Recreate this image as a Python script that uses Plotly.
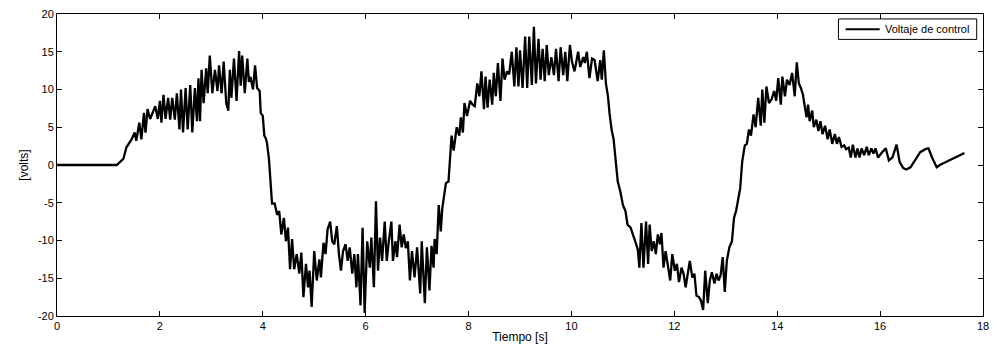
import plotly.graph_objects as go

t = [0, 1.16, 1.29, 1.35, 1.45, 1.51, 1.54, 1.60, 1.64, 1.69, 1.72, 1.76, 1.81, 1.86, 1.91, 1.96,
     2.00, 2.03, 2.07, 2.11, 2.16, 2.20, 2.24, 2.29, 2.33, 2.38, 2.41, 2.45, 2.50, 2.54, 2.59, 2.63,
     2.68, 2.72, 2.75, 2.78, 2.81, 2.85, 2.90, 2.93, 2.97, 3.02, 3.07, 3.12, 3.15, 3.20, 3.24, 3.29,
     3.33, 3.36, 3.39, 3.44, 3.49, 3.54, 3.57, 3.60, 3.65, 3.70, 3.73, 3.76, 3.81, 3.85, 3.89, 3.94,
     3.96, 4.00, 4.03, 4.06, 4.08, 4.12, 4.15, 4.18, 4.23, 4.28, 4.32, 4.36, 4.41, 4.45, 4.49, 4.53,
     4.57, 4.61, 4.66, 4.71, 4.75, 4.79, 4.84, 4.88, 4.91, 4.95, 5.00, 5.05, 5.10, 5.13, 5.18, 5.22,
     5.26, 5.31, 5.35, 5.39, 5.44, 5.48, 5.52, 5.56, 5.61, 5.65, 5.69, 5.74, 5.78, 5.82, 5.85, 5.90,
     5.94, 5.98, 6.03, 6.08, 6.11, 6.16, 6.20, 6.24, 6.28, 6.32, 6.37, 6.41, 6.45, 6.50, 6.53, 6.58,
     6.61, 6.66, 6.70, 6.74, 6.78, 6.82, 6.86, 6.90, 6.95, 7.00, 7.06, 7.09, 7.15, 7.19, 7.24, 7.28,
     7.32, 7.34, 7.38, 7.42, 7.46, 7.49, 7.56, 7.61, 7.67, 7.71, 7.77, 7.82, 7.85, 7.89, 7.92, 7.97,
     8.03, 8.08, 8.12, 8.17, 8.21, 8.25, 8.30, 8.33, 8.37, 8.41, 8.46, 8.49, 8.53, 8.57, 8.62, 8.66,
     8.70, 8.75, 8.79, 8.84, 8.89, 8.93, 8.97, 9.00, 9.05, 9.10, 9.14, 9.18, 9.23, 9.27, 9.31, 9.36,
     9.40, 9.44, 9.48, 9.52, 9.56, 9.61, 9.66, 9.70, 9.75, 9.79, 9.84, 9.88, 9.92, 9.97, 10.01, 10.06,
     10.13, 10.17, 10.23, 10.26, 10.30, 10.35, 10.40, 10.45, 10.51, 10.56, 10.59, 10.63, 10.67, 10.71,
     10.74, 10.78, 10.82, 10.85, 10.90, 10.95, 11.00, 11.05, 11.09, 11.15, 11.20, 11.24, 11.29, 11.32,
     11.36, 11.40, 11.45, 11.49, 11.52, 11.56, 11.60, 11.64, 11.68, 11.72, 11.75, 11.79, 11.83, 11.88,
     11.92, 11.96, 12.01, 12.05, 12.09, 12.14, 12.18, 12.22, 12.27, 12.30, 12.35, 12.39, 12.43, 12.48,
     12.52, 12.56, 12.60, 12.65, 12.69, 12.73, 12.78, 12.82, 12.86, 12.90, 12.94, 12.98, 13.02, 13.07,
     13.12, 13.16, 13.20, 13.25, 13.28, 13.32, 13.37, 13.41, 13.45, 13.49, 13.54, 13.58, 13.63, 13.68,
     13.71, 13.75, 13.79, 13.84, 13.89, 13.94, 13.98, 14.02, 14.07, 14.10, 14.15, 14.19, 14.24, 14.29,
     14.34, 14.38, 14.42, 14.46, 14.50, 14.53, 14.57, 14.60, 14.63, 14.68, 14.71, 14.76, 14.80, 14.84,
     14.88, 14.93, 14.98, 15.02, 15.07, 15.12, 15.16, 15.20, 15.25, 15.30, 15.34, 15.39, 15.43, 15.47,
     15.52, 15.56, 15.60, 15.64, 15.69, 15.74, 15.78, 15.83, 15.87, 15.91, 15.96, 16.04, 16.11, 16.17,
     16.24, 16.32, 16.38, 16.45, 16.51, 16.59, 16.69, 16.78, 16.88, 16.94, 17.01, 17.10, 17.16, 17.29,
     17.42, 17.55, 17.64]

v = [0, 0, 0.8, 2.35, 3.4, 4.3, 3.2, 5.6, 3.4, 6.9, 4.3, 7.4, 6.1, 6.9, 7.8, 6.1,
     8.5, 5.6, 9.3, 6.1, 8.9, 6.0, 8.9, 6.0, 9.5, 4.7, 10.0, 4.3, 10.2, 4.7, 10.6, 4.3,
     10.2, 5.8, 11.5, 5.8, 12.6, 8.2, 12.8, 9.5, 14.5, 9.5, 12.6, 9.8, 13.2, 9.5, 13.7, 8.2,
     7.2, 12.6, 8.9, 14.1, 8.5, 15.1, 10.5, 14.5, 9.5, 14.1, 11.0, 11.7, 10.0, 13.2, 10.2, 9.8,
     6.9, 6.5, 3.9, 3.5, 3.0, 0.8, -1.8, -5.1, -5.1, -6.6, -6.1, -9.2, -7.0, -10.1, -8.3, -13.8,
     -9.8, -13.8, -11.8, -14.4, -11.6, -17.5, -13.1, -16.2, -14.0, -18.8, -11.4, -15.3, -12.5, -14.9, -10.3, -11.8,
     -8.5, -7.5, -10.1, -10.5, -8.1, -11.8, -14.0, -11.4, -10.5, -12.7, -10.9, -14.4, -11.8, -16.2, -11.8, -18.6,
     -8.3, -19.6, -10.1, -13.6, -9.6, -16.2, -4.8, -14.0, -9.6, -12.7, -7.5, -12.7, -10.1, -7.5, -12.7, -10.1,
     -12.2, -7.9, -10.9, -9.2, -11.0, -10.1, -15.3, -11.4, -14.9, -10.9, -17.0, -10.1, -18.3, -10.9, -16.6, -10.7,
     -13.6, -9.8, -11.8, -5.3, -8.8, -5.7, -2.4, -2.2, 3.9, 1.9, 5.0, 3.9, 6.3, 4.3, 8.2, 6.5,
     8.5, 8.0, 7.8, 10.8, 9.1, 12.4, 7.4, 11.7, 7.6, 11.3, 8.0, 12.2, 9.1, 13.5, 8.5, 14.1,
     11.3, 12.4, 12.0, 15.0, 10.4, 15.6, 10.4, 15.2, 10.2, 17.0, 10.2, 17.0, 10.6, 18.3, 10.8, 16.7,
     11.3, 15.4, 11.1, 15.9, 11.9, 14.3, 11.9, 15.4, 11.1, 15.6, 11.9, 15.0, 11.1, 15.9, 13.7, 12.4,
     15.0, 13.0, 14.3, 13.5, 15.0, 11.5, 14.1, 13.9, 11.1, 13.9, 11.3, 15.2, 10.8, 9.1,
     6.9, 4.7, 3.4, 1.3, -2.2, -3.5, -5.3, -6.1, -7.9, -8.3, -9.2, -10.1, -11.2, -13.6,
     -7.7, -13.6, -7.5, -13.1, -7.9, -11.4, -10.1, -11.8, -9.2, -10.5, -9.0, -13.6, -11.4, -13.3,
     -15.3, -11.8, -14.0, -13.1, -15.5, -13.6, -14.4, -16.2, -14.0, -12.7, -14.9, -14.4, -17.3, -17.5,
     -18.0, -19.2, -14.0, -18.3, -15.3, -14.2, -15.7, -14.4, -15.3, -14.6, -12.2, -16.8, -12.7, -10.9,
     -10.1, -7.0, -6.1, -4.0, -3.1, 0.5, 2.6, 2.8, 4.7, 3.9, 6.7, 5.0, 8.9, 5.2,
     10.0, 5.6, 10.4, 8.2, 8.7, 9.8, 8.5, 11.5, 8.0, 11.7, 9.1, 11.3, 10.6, 12.2,
     9.1, 13.6, 10.8, 10.2, 9.3, 8.0, 6.3, 8.0, 5.8, 7.2, 5.0, 6.0, 4.5, 5.8,
     4.1, 5.2, 3.4, 4.7, 2.8, 4.1, 2.8, 3.7, 2.4, 2.6, 2.1, 2.3, 1.0, 2.7,
     1.0, 2.2, 1.0, 2.2, 1.3, 2.4, 1.3, 2.2, 1.5, 2.2, 1.0, 1.7, 2.2, 0.6,
     1.0, 2.7, 0.4, -0.4, -0.6, -0.3, 0.8, 1.7, 2.1, 2.2, 1.0, -0.3, 0.0, 0.4,
     0.9, 1.3, 1.6]

series_name = "Voltaje de control"
x_ticks = [0, 2, 4, 6, 8, 10, 12, 14, 16, 18]
y_ticks = [-20, -15, -10, -5, 0, 5, 10, 15, 20]

FONT = "Liberation Sans, Arial, Helvetica"

fig = go.Figure()
fig.add_trace(go.Scatter(x=t, y=v, mode="lines", name=series_name,
                         line=dict(color="black", width=2.3), showlegend=False))

axis_common = dict(showgrid=False, zeroline=False, showline=True, linecolor="black",
                   linewidth=1, mirror="ticks", ticks="inside", ticklen=5,
                   tickcolor="black", tickwidth=1,
                   tickfont=dict(family=FONT, size=11, color="black"))

# Legend box (MATLAB style) drawn in paper coordinates
L, R = 0.8439, 0.9932
B, T = 0.9159, 0.9837
fig.add_shape(type="rect", xref="paper", yref="paper", x0=L, x1=R, y0=B, y1=T,
              line=dict(color="black", width=1), fillcolor="white", layer="above")
ly = (B + T) / 2
fig.add_shape(type="line", xref="paper", yref="paper", x0=0.8516, x1=0.8884, y0=ly, y1=ly,
              line=dict(color="black", width=2), layer="above")
fig.add_annotation(xref="paper", yref="paper", x=0.8922, y=ly, xanchor="left", yanchor="middle",
                   text=series_name, showarrow=False,
                   font=dict(family=FONT, size=11, color="black"))

fig.update_layout(
    width=997, height=351,
    margin=dict(l=57, r=8, t=10, b=35),
    paper_bgcolor="white", plot_bgcolor="white",
    font=dict(family=FONT, color="black"),
    xaxis=dict(range=[0, 18], tickvals=x_ticks, ticktext=[str(x) for x in x_ticks],
               title=dict(text="Tiempo [s]", font=dict(size=12), standoff=1), **axis_common),
    yaxis=dict(range=[-20, 20], tickvals=y_ticks, ticktext=[str(y) for y in y_ticks],
               title=dict(text="[volts]", font=dict(size=12), standoff=6), **axis_common),
    showlegend=False,
)

fig.write_html("out.html")
